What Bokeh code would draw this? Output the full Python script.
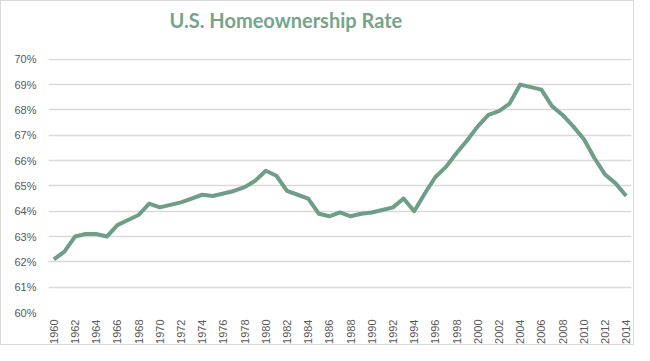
from bokeh.plotting import figure
from bokeh.models import FixedTicker, Range1d, CustomJSTickFormatter
from bokeh.embed import file_html
from bokeh.resources import INLINE

years = list(range(1960, 2015))
rates = [62.1, 62.4, 63.0, 63.1, 63.1, 63.0, 63.45, 63.65, 63.85, 64.3,
         64.15, 64.25, 64.35, 64.5, 64.65, 64.6, 64.7, 64.8, 64.95, 65.2,
         65.6, 65.4, 64.8, 64.65, 64.5, 63.9, 63.8, 63.95, 63.8, 63.9,
         63.95, 64.05, 64.15, 64.5, 64.0, 64.7, 65.35, 65.75, 66.3, 66.8,
         67.35, 67.8, 67.95, 68.25, 69.0, 68.9, 68.8, 68.15, 67.8, 67.35,
         66.85, 66.1, 65.45, 65.1, 64.6]
y_ticks = [60, 61, 62, 63, 64, 65, 66, 67, 68, 69, 70]
x_ticks = list(range(1960, 2015, 2))
title_text = "U.S. Homeownership Rate"

p = figure(width=634, height=345, output_backend="svg", toolbar_location=None,
           x_range=Range1d(1959.5, 2014.5), y_range=Range1d(60, 70.03),
           min_border_left=47, min_border_right=4, min_border_top=57, min_border_bottom=34,
           title=title_text + "\n ")
p.styles = {"border": "1px solid #d9d9d9", "box-sizing": "border-box"}
p.outline_line_color = None
p.background_fill_color = "white"
p.border_fill_color = "white"

p.title.align = "left"
p.title.vertical_align = "top"
p.title.offset = 121
p.title.standoff = 2
p.title.text_font = "Lato"
p.title.text_font_style = "bold"
p.title.text_font_size = "20px"
p.title.text_color = "#74a58b"

p.line(years, rates, line_color="#6e9e86", line_width=4, line_join="round")

p.xaxis.ticker = FixedTicker(ticks=x_ticks)
p.yaxis.ticker = FixedTicker(ticks=y_ticks)
p.yaxis.formatter = CustomJSTickFormatter(code="return tick.toFixed(0) + '%';")
p.xaxis.major_label_orientation = 1.5708
for ax in (p.xaxis[0], p.yaxis[0]):
    ax.axis_line_color = None
    ax.major_tick_line_color = None
    ax.minor_tick_line_color = None
    ax.major_tick_out = 0
    ax.major_tick_in = 0
    ax.major_label_text_font = "Liberation Sans"
    ax.major_label_text_font_size = "11px"
    ax.major_label_text_color = "#595959"
p.xaxis.major_label_standoff = 7
p.yaxis.major_label_standoff = 12

p.xgrid.grid_line_color = None
p.ygrid.grid_line_color = "#d9d9d9"
p.ygrid.grid_line_width = 1.5

open("out.html", "w").write(file_html(p, INLINE))
